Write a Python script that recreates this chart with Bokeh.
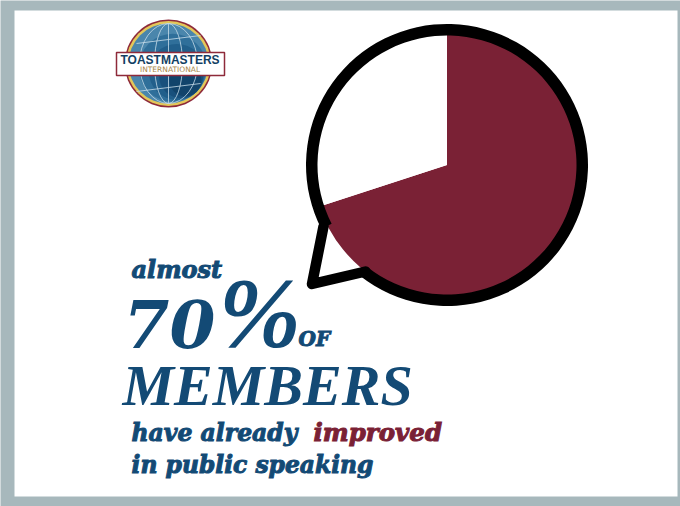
import numpy as np
from bokeh.plotting import figure
from bokeh.core.properties import value
from bokeh.embed import file_html
from bokeh.resources import INLINE

# Share of members in the speech-bubble pie
slice_names = ["improved", "other"]
slice_shares = [70, 30]
slice_colors = ["#7A2135", "#FFFFFF"]

NAVY = "#134A75"
MAROON = "#7A2135"
FRAME = "#A7B8BC"
W, H = 680, 506
BASELINE_SHIFT = 0.37  # em, distance the renderer sets alphabetic text below its anchor


def Y(py):
    # Layout is worked out from the top of the page; the y axis runs upward
    return H - py


p = figure(width=W, height=H, x_range=(0, W), y_range=(0, H),
           output_backend="svg", toolbar_location=None, min_border=0,
           background_fill_color=FRAME, outline_line_color=None)
p.axis.visible = False
p.grid.visible = False

# Panel inside the frame
p.quad(left=[14], right=[677], bottom=[Y(496)], top=[Y(10)], fill_color="#FFFFFF", line_color=None)

# Pie slices, clockwise from twelve o'clock
cx, cy, radius = 446.5, Y(164.5), 134
ends = np.cumsum(slice_shares) / np.sum(slice_shares) * 2 * np.pi
starts = np.concatenate([[0], ends[:-1]])
p.wedge(x=[cx] * 2, y=[cy] * 2, radius=radius,
        start_angle=np.pi / 2 - starts, end_angle=np.pi / 2 - ends,
        direction="clock", fill_color=slice_colors, line_color=None)

# Bubble outline, open where the tail joins
p.annular_wedge(x=[cx], y=[cy], inner_radius=129.5, outer_radius=141,
                start_angle=[np.radians(232)], end_angle=[np.radians(207)],
                direction="anticlock", fill_color="#000000", line_color=None)

# Bubble tail
p.line(x=[323, 311.5, 365], y=[Y(226), Y(283.5), Y(271)], line_color="#000000",
       line_width=10.5, line_join="round", line_cap="round")


def label(x, py, text, size, color=NAVY, font="DejaVu Serif", heavy=True):
    p.text(x=[x], y=[Y(py - BASELINE_SHIFT * size)], text=[text], text_font=value(font),
           text_font_style="bold italic", text_font_size=f"{size}px", text_color=color,
           text_outline_color=color if heavy else None,
           text_align="left", text_baseline="alphabetic")


# Headline
label(131, 278, "almost", 24)
label(123, 348, "70", 66, heavy=False)
label(218, 349, "%", 99, font="Liberation Serif", heavy=False)
label(298, 346, "OF", 20)
label(122, 406, "MEMBERS", 58, font="Liberation Serif", heavy=False)
label(131, 441, "have already", 23.5)
label(313, 441, "improved", 24.5, color=MAROON)
label(131, 473, "in public speaking", 23.4)

# Emblem: rings, then a globe shaded toward the lower right
ex, ey = 168, Y(63)
p.circle(x=[ex], y=[ey], radius=44, fill_color="#8E2A3A", line_color=None)
p.circle(x=[ex], y=[ey], radius=42.5, fill_color="#E3C75A", line_color=None)
globe_r = 40
for shrink, shade in zip([0, 6, 12, 18, 24], ["#4A86AC", "#2F6F9A", "#215F8B", "#18507C", "#11446B"]):
    off = shrink * 0.7
    p.circle(x=[ex + off], y=[ey - off], radius=globe_r - shrink, fill_color=shade, line_color=None)

# Meridians and parallels
for half_w in [14, 29]:
    p.ellipse(x=[ex], y=[ey], width=half_w * 2, height=globe_r * 2, fill_color=None,
              line_color="#C7DCE8", line_width=1, line_alpha=0.8)
for py, half in [(-24, 32), (24, 32)]:
    p.line(x=[ex - half, ex + half], y=[ey + py - 4, ey + py + 4], line_color="#C7DCE8",
           line_width=1, line_alpha=0.8)
p.line(x=[ex, ex], y=[ey - globe_r, ey + globe_r], line_color="#C7DCE8", line_width=1, line_alpha=0.8)

# Name banner
p.quad(left=[116], right=[224], bottom=[Y(75)], top=[Y(52)], fill_color="#FFFFFF",
       line_color="#8E2A3A", line_width=1.5)
p.text(x=[169.5], y=[Y(63.5 - BASELINE_SHIFT * 12)], text=["TOASTMASTERS"], text_font=value("Liberation Sans"),
       text_font_style="bold", text_font_size="12px", text_color="#123F63",
       text_align="center", text_baseline="alphabetic")
p.text(x=[169.5], y=[Y(71.5 - BASELINE_SHIFT * 7.5)], text=["INTERNATIONAL"], text_font=value("DejaVu Sans"),
       text_font_size="7.5px", text_color="#A9874A", text_align="center", text_baseline="alphabetic")

open("out.html", "w").write(file_html(p, INLINE))
